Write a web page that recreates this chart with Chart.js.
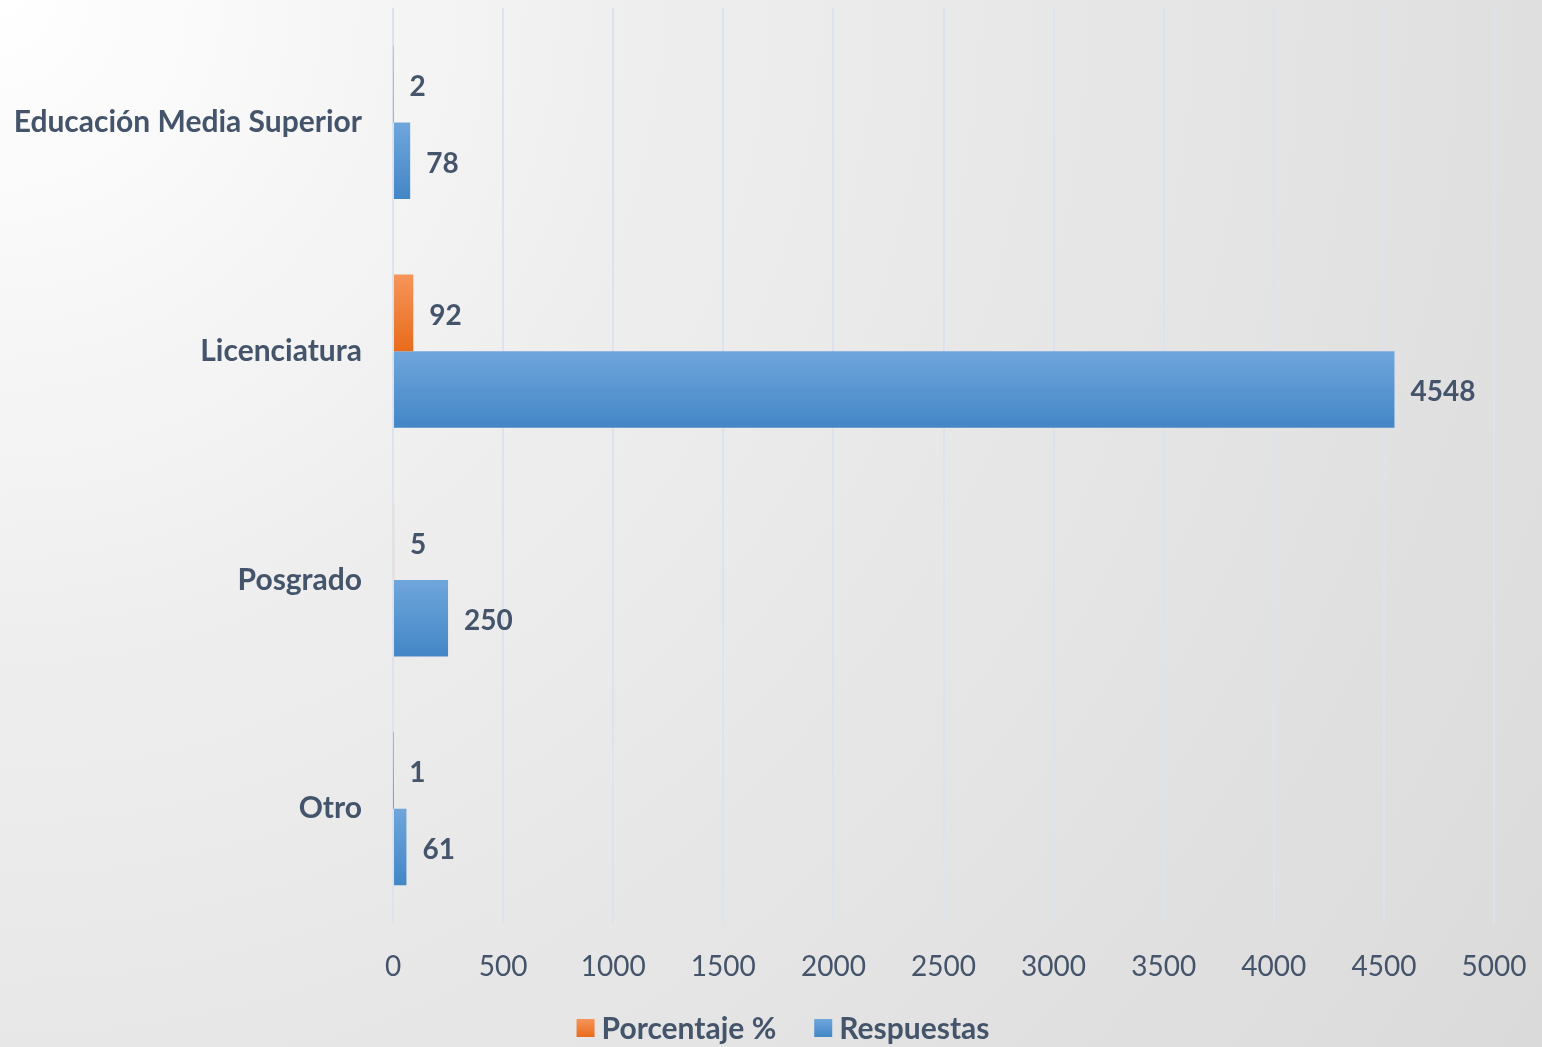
<!DOCTYPE html>
<html>
<head>
<meta charset="utf-8">
<script src="https://cdn.jsdelivr.net/npm/chart.js@4/dist/chart.umd.min.js"></script>
<style>
  html, body { margin: 0; padding: 0; }
  body {
    width: 1542px; height: 1047px; overflow: hidden;
    background: radial-gradient(circle farthest-corner at 0% 0%, #ffffff 0%, #eeeeee 35%, #dadada 100%);
  }
  #wrap { position: relative; width: 1542px; height: 1047px; }
</style>
</head>
<body>
<div id="wrap"><canvas id="chart" width="1542" height="1047"></canvas></div>
<script>
const categories = ["Educación Media Superior", "Licenciatura", "Posgrado", "Otro"];
const porcentaje = [2, 92, 5, 1];
const respuestas = [78, 4548, 250, 61];
const xTicks = [0, 500, 1000, 1500, 2000, 2500, 3000, 3500, 4000, 4500, 5000];

const textColor = "#44546A";
const fontFamily = "Lato, 'Open Sans', sans-serif";

// vertical gradient per bar, light on top, darker below
const barShades = [
  ["#F6955A", "#E86B1C"],
  ["#6FA6DC", "#4386C6"]
];

const gradientBars = {
  id: "gradientBars",
  beforeDatasetsDraw(chart) {
    const ctx = chart.ctx;
    chart.data.datasets.forEach((ds, di) => {
      const meta = chart.getDatasetMeta(di);
      meta.data.forEach(el => {
        const h = el.height;
        const g = ctx.createLinearGradient(0, el.y - h / 2, 0, el.y + h / 2);
        g.addColorStop(0, barShades[di][0]);
        g.addColorStop(1, barShades[di][1]);
        el.options = Object.assign({}, el.options, { backgroundColor: g });
      });
    });
  }
};

const valueLabels = {
  id: "valueLabels",
  afterDatasetsDraw(chart) {
    const ctx = chart.ctx;
    ctx.save();
    ctx.font = "bold 28px " + fontFamily;
    ctx.fillStyle = textColor;
    ctx.textAlign = "left";
    ctx.textBaseline = "middle";
    chart.data.datasets.forEach((ds, di) => {
      const meta = chart.getDatasetMeta(di);
      meta.data.forEach((el, i) => {
        ctx.fillText(String(ds.data[i]), el.x + 16, el.y + 3);
      });
    });
    ctx.restore();
  }
};

// legend drawn by hand so it can sit where the original has it
const bottomLegend = {
  id: "bottomLegend",
  afterDraw(chart) {
    const ctx = chart.ctx;
    ctx.save();
    ctx.font = "bold 30px " + fontFamily;
    ctx.textBaseline = "middle";
    ctx.textAlign = "left";
    const box = 18, gap = 7, spacing = 38, cy = 1028, center = 783;
    const labels = chart.data.datasets.map(d => d.label);
    const widths = labels.map(t => ctx.measureText(t).width);
    const total = widths.reduce((a, w) => a + box + gap + w, 0) + spacing * (labels.length - 1);
    let x = center - total / 2;
    labels.forEach((t, i) => {
      const g = ctx.createLinearGradient(0, cy - box / 2, 0, cy + box / 2);
      g.addColorStop(0, barShades[i][0]);
      g.addColorStop(1, barShades[i][1]);
      ctx.fillStyle = g;
      ctx.fillRect(x, cy - box / 2, box, box);
      x += box + gap;
      ctx.fillStyle = textColor;
      ctx.fillText(t, x, cy + 1);
      x += widths[i] + spacing;
    });
    ctx.restore();
  }
};

new Chart(document.getElementById("chart"), {
  type: "bar",
  data: {
    labels: categories,
    datasets: [
      { label: "Porcentaje %", data: porcentaje, backgroundColor: barShades[0][1] },
      { label: "Respuestas", data: respuestas, backgroundColor: barShades[1][1] }
    ]
  },
  options: {
    indexAxis: "y",
    responsive: false,
    animation: false,
    devicePixelRatio: 1,
    categoryPercentage: 0.67,
    barPercentage: 1.0,
    layout: { padding: { top: 8, right: 48, left: 0, bottom: 49 } },
    scales: {
      x: {
        min: 0,
        max: 5000,
        afterBuildTicks(scale) { scale.ticks = xTicks.map(v => ({ value: v })); },
        grid: { color: "#dde3ea", lineWidth: 2, drawTicks: false },
        border: { display: false },
        ticks: {
          color: textColor,
          font: { family: fontFamily, size: 28 },
          padding: 27,
          callback: v => String(v)
        },
        afterFit(scale) {
          scale.height = 75;
          scale.paddingLeft = 0;
          scale.paddingRight = 0;
        }
      },
      y: {
        grid: { display: false, drawTicks: false },
        border: { display: false },
        ticks: {
          color: textColor,
          font: { family: fontFamily, size: 30, weight: "bold" },
          padding: 31
        },
        afterFit(scale) {
          scale.width = 393;
          scale.paddingTop = 0;
          scale.paddingBottom = 0;
        }
      }
    },
    plugins: {
      legend: { display: false },
      tooltip: { enabled: false }
    }
  },
  plugins: [gradientBars, valueLabels, bottomLegend]
});
</script>
</body>
</html>
